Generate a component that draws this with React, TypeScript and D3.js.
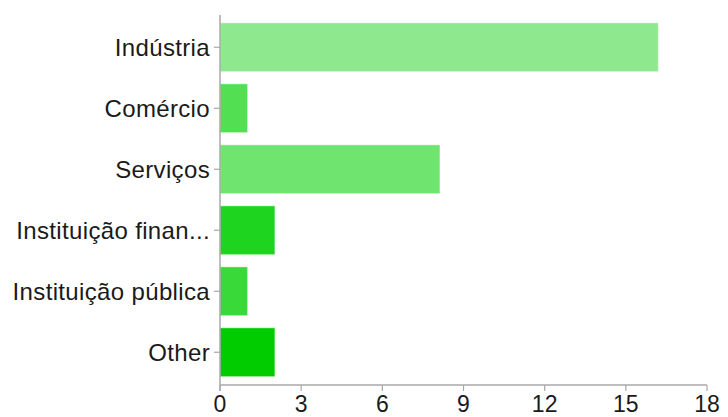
import React from "react";
import * as d3 from "d3";

const categories = ["Indústria", "Comércio", "Serviços", "Instituição finan...", "Instituição pública", "Other"];
const values = [16.2, 1.02, 8.13, 2.03, 1.02, 2.03];
const barColors = ["#8ee98e", "#52df52", "#6fe46f", "#1fd41f", "#3ad93a", "#00cc00"];
const xTicks = [0, 3, 6, 9, 12, 15, 18];

const W = 728;
const H = 417;
const FONT = "'Liberation Sans', Arial, Helvetica, sans-serif";

export default function App() {
  const x = d3.scaleLinear().domain([0, 18]).range([220, 707]);
  const y = d3.scaleBand<string>().domain(categories).range([16.75, 382.75]).paddingInner(0.2).paddingOuter(0.1);
  const axisColor = "#a8a8a8";
  const axisBottom = 385;

  return (
    <svg width={W} height={H} style={{ position: "absolute", left: 0, top: 0, background: "#fff" }}>
      {categories.map((c, i) => (
        <rect
          key={c}
          x={x(0)}
          y={y(c)!}
          width={x(values[i]) - x(0)}
          height={y.bandwidth()}
          fill={barColors[i]}
          stroke="rgba(255,255,255,0.45)"
          strokeWidth={1}
        />
      ))}
      {/* y axis */}
      <line x1={x(0)} x2={x(0)} y1={15} y2={axisBottom + 6} stroke={axisColor} strokeWidth={1.5} />
      {categories.map((c) => {
        const cy = y(c)! + y.bandwidth() / 2;
        return (
          <g key={"yt" + c}>
            <line x1={x(0) - 6} x2={x(0)} y1={cy} y2={cy} stroke={axisColor} strokeWidth={1.2} />
            <text x={x(0) - 10} y={cy} dy="0.36em" textAnchor="end" fontFamily={FONT} fontSize={24} letterSpacing={0.35} fill="#1a1a1a">
              {c}
            </text>
          </g>
        );
      })}
      {/* x axis */}
      <line x1={x(0)} x2={x(18)} y1={axisBottom} y2={axisBottom} stroke={axisColor} strokeWidth={1.5} />
      {xTicks.map((t) => (
        <g key={"xt" + t}>
          <line x1={x(t)} x2={x(t)} y1={axisBottom} y2={axisBottom + 6} stroke={axisColor} strokeWidth={1.2} />
          <text x={x(t)} y={412} textAnchor="middle" fontFamily={FONT} fontSize={23} fill="#1a1a1a">
            {t}
          </text>
        </g>
      ))}
    </svg>
  );
}
